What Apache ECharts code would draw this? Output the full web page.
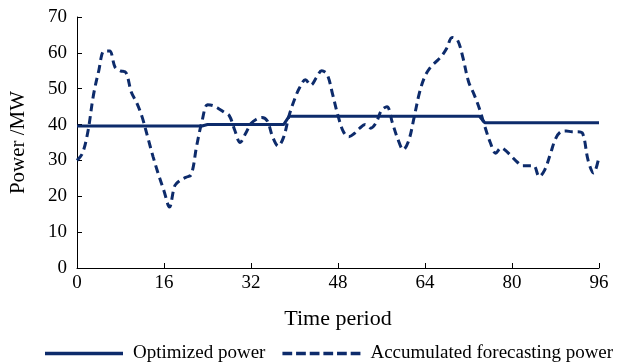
<!DOCTYPE html>
<html>
<head>
<meta charset="utf-8">
<script src="https://cdn.jsdelivr.net/npm/echarts@6/dist/echarts.min.js"></script>
<style>
  html, body { margin: 0; padding: 0; background: #fff; }
  #chart { width: 626px; height: 364px; }
</style>
</head>
<body>
<div id="chart"></div>
<script>
// time periods 0..96
const periods = []
for (let i = 0; i <= 96; i++) periods.push(i)

// optimized power (piecewise flat)
const optimized = [
  39.6, 39.6, 39.6, 39.6, 39.6, 39.6, 39.6, 39.6, 39.6, 39.6,
  39.6, 39.6, 39.6, 39.6, 39.6, 39.6, 39.6, 39.6, 39.6, 39.6,
  39.6, 39.6, 39.6, 39.6, 40.0, 40.0, 40.0, 40.0, 40.0, 40.0,
  40.0, 40.0, 40.0, 40.0, 40.0, 40.0, 40.0, 40.0, 40.0, 42.3,
  42.3, 42.3, 42.3, 42.3, 42.3, 42.3, 42.3, 42.3, 42.3, 42.3,
  42.3, 42.3, 42.3, 42.3, 42.3, 42.3, 42.3, 42.3, 42.3, 42.3,
  42.3, 42.3, 42.3, 42.3, 42.3, 42.3, 42.3, 42.3, 42.3, 42.3,
  42.3, 42.3, 42.3, 42.3, 42.3, 40.5, 40.5, 40.5, 40.5, 40.5,
  40.5, 40.5, 40.5, 40.5, 40.5, 40.5, 40.5, 40.5, 40.5, 40.5,
  40.5, 40.5, 40.5, 40.5, 40.5, 40.5, 40.5
]

// accumulated forecasting power
const forecast = [
  30, 32, 38, 48, 55, 60.5, 60.5, 56, 55, 54.5,
  49, 46, 42, 36.5, 31, 26, 21.5, 17, 23, 24.5,
  25.3, 26, 34, 41, 45.5, 45.3, 44.5, 43.5, 42.5, 38.5,
  35, 37.5, 40.3, 41.5, 42, 41, 36.5, 34, 36.5, 42.5,
  47, 50.5, 52.5, 51, 53, 55, 54, 48.5, 42.5, 38,
  36.6, 37.5, 39, 40, 39, 40.5, 44, 45, 40.5, 36,
  33, 35.5, 42, 49, 53.5, 56, 57.5, 59, 61.3, 64.3,
  63.5, 58.5, 52, 48.5, 44.5, 39.5, 35, 32, 33.5, 32.5,
  31, 29.5, 28.5, 28.5, 28.5, 25.5, 27.3, 31.5, 36, 38,
  38.2, 38, 38, 37.5, 30, 26.5, 31
]

const lineColor = '#0d2b6b'
const font = 'Liberation Serif'

// legend icons: a solid bar and a row of dashes
const solidIcon = 'path://M0,0h80v3.5h-80z'
const dashIcon = 'path://M0,0h10v3.5h-10z M14,0h10v3.5h-10z M28,0h10v3.5h-10z M42,0h10v3.5h-10z M56,0h10v3.5h-10z M70,0h10v3.5h-10z'

const chart = echarts.init(document.getElementById('chart'))
const option = {
  animation: false,
  textStyle: { fontFamily: font },
  grid: { left: 77, right: 27, top: 17, bottom: 96 },
  xAxis: {
    type: 'value',
    min: 0,
    max: 96,
    interval: 16,
    name: 'Time period',
    nameLocation: 'middle',
    nameGap: 40,
    nameTextStyle: { fontFamily: font, fontSize: 22, color: '#000' },
    axisLine: { lineStyle: { color: '#000', width: 1 } },
    axisTick: { inside: true, length: 5, lineStyle: { color: '#000' } },
    axisLabel: { fontFamily: font, fontSize: 19, color: '#000', margin: 6 },
    splitLine: { show: false }
  },
  yAxis: {
    type: 'value',
    min: 0,
    max: 70,
    interval: 10,
    name: 'Power /MW',
    nameLocation: 'middle',
    nameGap: 48,
    nameTextStyle: { fontFamily: font, fontSize: 21, color: '#000' },
    axisLine: { show: true, lineStyle: { color: '#000', width: 1 } },
    axisTick: { show: true, inside: true, length: 5, lineStyle: { color: '#000' } },
    axisLabel: { fontFamily: font, fontSize: 19, color: '#000', margin: 10 },
    splitLine: { show: false }
  },
  legend: {
    left: 40,
    top: 339,
    itemWidth: 78,
    itemHeight: 4,
    itemGap: 17,
    textStyle: { fontFamily: font, fontSize: 19, color: '#000', padding: [0, 0, 0, 5] },
    data: [
      { name: 'Optimized power', icon: solidIcon },
      { name: 'Accumulated forecasting power', icon: dashIcon }
    ]
  },
  series: [
    {
      name: 'Optimized power',
      type: 'line',
      data: periods.map((t, i) => [t, optimized[i]]),
      symbol: 'none',
      lineStyle: { color: lineColor, width: 3 },
      itemStyle: { color: lineColor },
      z: 3
    },
    {
      name: 'Accumulated forecasting power',
      type: 'line',
      data: periods.map((t, i) => [t, forecast[i]]),
      symbol: 'none',
      smooth: 0.35,
      lineStyle: { color: lineColor, width: 3, type: [8, 5] },
      itemStyle: { color: lineColor },
      z: 2
    }
  ]
}
chart.setOption(option)
</script>
</body>
</html>
